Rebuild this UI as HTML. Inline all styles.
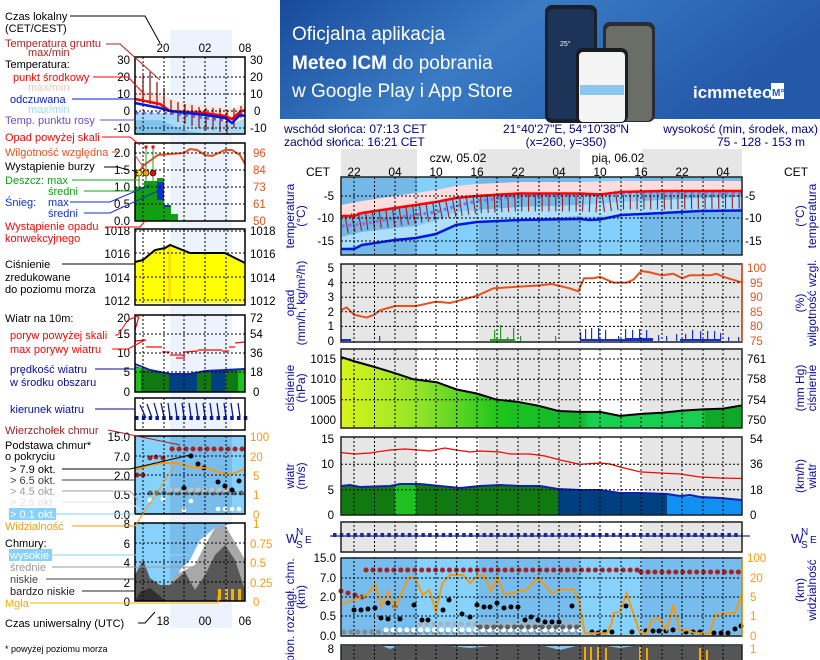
<!DOCTYPE html>
<html><head><meta charset="utf-8"><style>
html,body{margin:0;padding:0;background:#fff;}
svg{display:block;font-family:"Liberation Sans",sans-serif;}
</style></head><body>
<svg width="820" height="660" viewBox="0 0 820 660" xmlns="http://www.w3.org/2000/svg" font-size="12">
<defs>
<linearGradient id="bn" x1="0" y1="0" x2="1" y2="0.3">
<stop offset="0" stop-color="#174a9c"/><stop offset="0.45" stop-color="#3a7bc4"/><stop offset="0.75" stop-color="#2d68b6"/><stop offset="1" stop-color="#2458a8"/></linearGradient>
<linearGradient id="pg" x1="0" y1="0" x2="1" y2="0">
<stop offset="0" stop-color="#d8f41c"/><stop offset="0.2" stop-color="#90e428"/><stop offset="0.4" stop-color="#1cc41c"/><stop offset="0.6" stop-color="#10b830"/><stop offset="0.62" stop-color="#18d050"/><stop offset="0.9" stop-color="#18d050"/><stop offset="0.91" stop-color="#10a828"/><stop offset="1" stop-color="#10a828"/></linearGradient>
</defs>

<!-- BANNER -->
<rect x="280" y="0" width="540" height="119" fill="url(#bn)"/>
<text x="292" y="40" fill="#fff" font-size="19">Oficjalna aplikacja</text>
<text x="292" y="69" fill="#fff" font-size="19"><tspan font-weight="bold">Meteo ICM</tspan> do pobrania</text>
<text x="292" y="97" fill="#fff" font-size="19">w Google Play i App Store</text>
<rect x="545" y="5" width="52" height="118" rx="7" fill="#1a1f28"/>
<rect x="548" y="9" width="46" height="110" rx="5" fill="#1d3358"/>
<text x="560" y="46" fill="#fff" font-size="7">25°</text>
<rect x="603" y="22" width="52" height="100" rx="7" fill="#2a2e34"/>
<rect x="606" y="26" width="46" height="95" rx="5" fill="#6b6e66"/>
<rect x="576" y="48" width="52" height="75" rx="7" fill="#1a1c20"/>
<rect x="579" y="52" width="46" height="70" rx="4" fill="#f4f4f4"/>
<rect x="580" y="85" width="44" height="10" fill="#8ac6ee"/>
<text x="693" y="98" fill="#fff" font-size="17" font-weight="bold">icmmeteo</text>
<rect x="771" y="83" width="13" height="16" fill="#fff"/>
<text x="772" y="96" fill="#2458a8" font-size="10" font-weight="bold">M°</text>

<!-- header text -->
<g fill="#000080" font-size="12">
<text x="284" y="133">wschód słońca: 07:13 CET</text>
<text x="284" y="146">zachód słońca: 16:21 CET</text>
<text x="566" y="133" text-anchor="middle">21°40'27"E, 54°10'38"N</text>
<text x="566" y="146" text-anchor="middle">(x=260,  y=350)</text>
<text x="818" y="133" text-anchor="end">wysokość (min, środek, max)</text>
<text x="761" y="146" text-anchor="middle">75 - 128 - 153 m</text>
</g>

<!-- column backgrounds header -->
<g fill="#e6e6e6">
<rect x="341" y="149" width="76" height="28"/><rect x="479" y="149" width="101" height="28"/><rect x="642" y="149" width="100" height="28"/>
</g>
<text x="458" y="162" text-anchor="middle">czw, 05.02</text>
<text x="618" y="162" text-anchor="middle">pią, 06.02</text>
<g text-anchor="middle" font-size="12">
<text x="318" y="176">CET</text><text x="796" y="176">CET</text>
<text x="354" y="176">22</text><text x="395" y="176">04</text><text x="436" y="176">10</text><text x="477" y="176">16</text><text x="518" y="176">22</text><text x="559" y="176">04</text><text x="600" y="176">10</text><text x="641" y="176">16</text><text x="682" y="176">22</text><text x="723" y="176">04</text>
</g>

<!-- gray/white panels backgrounds -->
<g fill="#e6e6e6">
<rect x="341" y="264" width="76" height="395"/><rect x="479" y="264" width="101" height="395"/><rect x="642" y="264" width="100" height="395"/>
</g>

<!-- TEMP panel -->
<rect x="341" y="177" width="401" height="78" fill="#84d0fc"/>
<g fill="#74b8e8"><rect x="341" y="177" width="76" height="78"/><rect x="479" y="177" width="101" height="78"/><rect x="642" y="177" width="100" height="78"/></g>
<polygon fill="#b4e2fc" opacity="0.9" points="341,237 362,232 395,228 416,226 436,221 456,212 477,210 518,207 580,205 621,202 662,200 700,198 742,197 742,210 700,211 662,213 621,215 600,216 590,217 580,216 518,220 477,222 456,225 436,234 416,238 395,240 362,245 341,249"/>
<polygon fill="#fcdcdc" points="341,205 362,201 395,196 436,190 456,186 477,184 518,182 580,182 621,181 742,181 742,192 662,191 621,192 600,194 580,193 518,193 477,196 456,198 436,202 395,208 362,213 341,216"/>
<polyline fill="none" stroke="#a01818" stroke-width="19" stroke-dasharray="1.1 5.7" points="346,224 362,221 395,217 436,211 456,207 477,204 518,202 580,202 600,203 621,200 662,200 742,199"/>
<polyline fill="none" stroke="#7a7ae8" stroke-width="3.5" stroke-linecap="round" stroke-dasharray="0.1 6.8" points="343,226 362,224 395,218 436,212 456,206 477,201 518,196 580,195 621,194 662,193 742,193"/>
<polyline fill="none" stroke="#f00" stroke-width="2.5" points="341,216 354,216 362,213 395,208 436,202 456,198 477,196 518,193.5 580,193.5 600,194.5 621,192 662,191 742,191"/>
<polyline fill="none" stroke="#0018e0" stroke-width="2.5" points="341,249 354,249 362,245 395,240 416,238 436,234 456,225 477,222 518,220 580,219 590,220 600,219.5 621,215 662,213 700,211 742,210.5"/>

<!-- PRECIP -->
<g fill="#20a020"><rect x="494" y="330" width="1.2" height="11"/><rect x="500" y="325" width="1.2" height="16"/><rect x="513" y="328" width="1.2" height="13"/><rect x="507" y="337" width="1.2" height="4"/><rect x="520" y="336" width="1.2" height="5"/><rect x="555" y="336" width="1.2" height="5"/><rect x="490" y="339" width="25" height="2"/></g>
<g fill="#1030e0"><rect x="580" y="332" width="1.2" height="9"/><rect x="585" y="329" width="1.2" height="12"/><rect x="591" y="328" width="1.2" height="13"/><rect x="598" y="328" width="1.2" height="13"/><rect x="605" y="330" width="1.2" height="11"/><rect x="618" y="336" width="1.2" height="5"/><rect x="625" y="329" width="1.2" height="12"/><rect x="632" y="330" width="1.2" height="11"/><rect x="639" y="329" width="1.2" height="12"/><rect x="646" y="330" width="1.2" height="11"/><rect x="658" y="335" width="1.2" height="6"/><rect x="666" y="336" width="1.2" height="5"/><rect x="676" y="334" width="1.2" height="7"/><rect x="685" y="334" width="1.2" height="7"/><rect x="692" y="330" width="1.2" height="11"/><rect x="700" y="331" width="1.2" height="10"/><rect x="707" y="331" width="1.2" height="10"/><rect x="714" y="331" width="1.2" height="10"/><rect x="720" y="333" width="1.2" height="8"/><rect x="728" y="337" width="1.2" height="4"/><rect x="738" y="337" width="1.2" height="4"/><rect x="580" y="339" width="60" height="2"/><rect x="626" y="338" width="27" height="3"/><rect x="680" y="339" width="40" height="2"/><rect x="379" y="336" width="1.2" height="5"/><rect x="341" y="339" width="10" height="2"/></g>
<polyline fill="none" stroke="#e8501c" stroke-width="2" points="340.7,310.3 346.7,307.4 354,314.7 366.7,317.6 374.3,314.7 380,310.3 395,306 416,306 436,301.6 450,303 477.3,295.7 493.3,288.4 513.3,287 538.7,285.5 551.7,284 570,288.4 578.3,291.4 584,278.2 593.3,278.2 600,276.8 613.3,282.6 626.7,282.6 633.3,279.7 641.3,271 650,272.4 661.7,275.3 673.3,273.8 682.3,278.2 690,275.3 710,275.3 716.7,273.8 723.3,276.8 742.3,282.6"/>

<!-- PRESSURE -->
<polygon fill="url(#pg)" points="341,428 340.7,356.9 353.3,361 375,367.1 395,373.2 413.3,379.3 436.7,382.2 456.7,389.5 476.7,393.5 496.7,399.7 516.7,401.7 538.7,405.8 558.3,411 580,411.9 600,411.9 620,415.9 641.3,413.9 661.7,412.7 682.3,410.6 702.7,409.4 723.3,408.6 742.3,405.3 742,428"/>
<polyline fill="none" stroke="#000" stroke-width="2" points="340.7,356.9 353.3,361 375,367.1 395,373.2 413.3,379.3 436.7,382.2 456.7,389.5 476.7,393.5 496.7,399.7 516.7,401.7 538.7,405.8 558.3,411 580,411.9 600,411.9 620,415.9 641.3,413.9 661.7,412.7 682.3,410.6 702.7,409.4 723.3,408.6 742.3,405.3"/>

<!-- WIND -->
<polygon fill="#107a10" points="341,515 341,486 350,485 360,487 390,486 400,484 420,484 440,486 460,488 480,486 500,485 520,486 540,486 558,489 558,515"/>
<rect x="395" y="484" width="21" height="31" fill="#20c020"/>
<polygon fill="#004080" points="558,515 558,489 580,490 600,490 620,493 640,493 667,494 667,515"/>
<polygon fill="#1090f0" points="667,515 667,494 680,496 700,497 720,498 742,500 742,515"/>
<polyline fill="none" stroke="#1020b0" stroke-width="2" points="341,486 350,485 360,487 390,486 400,484 420,484 440,486 460,488 480,486 500,485 520,486 540,486 558,489 580,490 600,490 620,493 640,493 667,494 680,496 690,495 700,497 720,498 742,500"/>
<polyline fill="none" stroke="#f00" stroke-width="1.2" points="341,452.6 355,454 370,453 390,450 405,449 430,451 445,448 456,450 470,452 480,451 500,452 510,454 530,454 545,456 560,460 580,464.3 600,463 610,464 620,467 640,471.9 660,473 680,474 700,477 720,478 742,478.5"/>

<!-- DIRECTION -->
<line x1="330" y1="536" x2="750" y2="536" stroke="#1a2a9a" stroke-width="1.2"/>
<line x1="333" y1="535" x2="742" y2="535" stroke="#1a2a9a" stroke-width="4" stroke-dasharray="3.5 3.3"/>

<!-- CLOUDS -->
<rect x="341" y="558" width="401" height="78" fill="#86d2fc"/>
<g fill="#76bcec"><rect x="341" y="558" width="76" height="78"/><rect x="479" y="558" width="101" height="78"/><rect x="642" y="558" width="100" height="78"/></g>
<line x1="344" y1="632" x2="580" y2="632" stroke="#888" stroke-width="5" stroke-linecap="round" stroke-dasharray="0.1 6.8"/>
<line x1="386" y1="630" x2="580" y2="630" stroke="#fff" stroke-width="5" stroke-linecap="round" stroke-dasharray="0.1 6.8"/>
<line x1="420" y1="624" x2="580" y2="624" stroke="#b0b0b0" stroke-width="5" stroke-linecap="round" stroke-dasharray="0.1 6.8"/>
<line x1="480" y1="627" x2="580" y2="627" stroke="#606060" stroke-width="5" stroke-linecap="round" stroke-dasharray="0.1 6.8"/>
<line x1="366" y1="570" x2="641" y2="570" stroke="#a82020" stroke-width="5" stroke-linecap="round" stroke-dasharray="0.1 6.85"/>
<line x1="641" y1="572" x2="742" y2="572" stroke="#a82020" stroke-width="5" stroke-linecap="round" stroke-dasharray="0.1 6.85"/>
<g fill="#a82020"><circle cx="341" cy="591" r="2.5"/><circle cx="348" cy="593" r="2.5"/><circle cx="355" cy="595" r="2.5"/><circle cx="362" cy="597" r="2.5"/></g>
<g fill="#000">
<circle cx="354" cy="610" r="2.5"/><circle cx="361" cy="610" r="2.5"/><circle cx="368" cy="609" r="2.5"/><circle cx="375" cy="608" r="2.5"/><circle cx="388" cy="603" r="2.5"/><circle cx="395" cy="606" r="2.5"/><circle cx="414" cy="605" r="2.5"/><circle cx="443" cy="610" r="2.5"/><circle cx="449" cy="600" r="2.5"/><circle cx="477" cy="605" r="2.5"/><circle cx="484" cy="607" r="2.5"/><circle cx="490" cy="607" r="2.5"/><circle cx="497" cy="603" r="2.5"/><circle cx="504" cy="608" r="2.5"/><circle cx="511" cy="607" r="2.5"/><circle cx="518" cy="607" r="2.5"/><circle cx="572" cy="606" r="2.5"/>
<circle cx="381" cy="618" r="2.5"/><circle cx="388" cy="619" r="2.5"/><circle cx="400" cy="619" r="2.5"/><circle cx="422" cy="620" r="2.5"/><circle cx="428" cy="620" r="2.5"/><circle cx="462" cy="614" r="2.5"/><circle cx="470" cy="617" r="2.5"/><circle cx="525" cy="620" r="2.5"/><circle cx="531" cy="617" r="2.5"/><circle cx="538" cy="620" r="2.5"/><circle cx="545" cy="622" r="2.5"/><circle cx="552" cy="622" r="2.5"/><circle cx="559" cy="622" r="2.5"/>
<circle cx="592" cy="632" r="2.5"/><circle cx="598" cy="633" r="2.5"/><circle cx="605" cy="632" r="2.5"/><circle cx="612" cy="632" r="2.5"/><circle cx="626" cy="606" r="2.5"/><circle cx="632" cy="632" r="2.5"/><circle cx="646" cy="631" r="2.5"/><circle cx="653" cy="631" r="2.5"/><circle cx="659" cy="631" r="2.5"/><circle cx="666" cy="631" r="2.5"/><circle cx="673" cy="630" r="2.5"/><circle cx="686" cy="632" r="2.5"/><circle cx="693" cy="632" r="2.5"/><circle cx="700" cy="632" r="2.5"/><circle cx="714" cy="633" r="2.5"/><circle cx="721" cy="633" r="2.5"/><circle cx="728" cy="633" r="2.5"/><circle cx="735" cy="629" r="2.5"/><circle cx="741" cy="626" r="2.5"/>
</g>
<polyline fill="none" stroke="#f59a10" stroke-width="2" points="340.7,604 351.7,600.7 366.7,595 375,584 381.7,606 388.3,591.7 395,608.3 408.3,577.7 415,577.7 422.7,595 429.3,590 436,611.7 442.3,583.3 450,575 463.3,575 470,583.3 477.3,575.7 484,575.7 490.7,591 497.3,576.7 504,594 511.7,594 517.3,591 525,590.7 538.7,577.7 551.7,593.3 558.3,590 573.3,589.3 578.3,598.3 585,633.3 598.3,633.3 606.7,633.3 611.7,623.3 613.3,613.3 620,611.7 626.7,593.3 633.3,613.3 640,633.3 646.7,633.3 651.7,620 658.3,618.3 666.7,630 673.3,605 680,631.7 686.7,630 695,633.3 710,633.3 715,615 720,614 735,612.7 742.3,593.3"/>

<!-- bottom cloud panel -->
<rect x="341" y="645" width="401" height="15" fill="#555"/>
<polygon fill="#80c8f0" points="341,645 380,645 390,649 400,645 440,645 470,648 500,645 520,645 540,645 560,650 580,645 600,645 620,648 640,645 742,645 742,646 341,646"/>
<g fill="#f5a800"><rect x="584" y="647" width="2" height="13"/><rect x="590" y="647" width="2" height="13"/><rect x="597" y="647" width="2" height="13"/><rect x="605" y="648" width="2" height="12"/><rect x="639" y="647" width="2" height="13"/><rect x="646" y="648" width="2" height="12"/><rect x="699" y="648" width="2" height="12"/><rect x="706" y="650" width="2" height="10"/></g>

<!-- main vertical grid -->
<path fill="none" stroke="#000" stroke-width="1" stroke-dasharray="2 2" d="M354 177V660M374.5 177V660M395 177V660M416 177V660M436 177V660M456.7 177V660M477 177V660M497 177V660M518 177V660M539 177V660M559 177V660M580 177V660M600 177V660M621 177V660M641 177V660M662 177V660M682 177V660M703 177V660M723 177V660"/>
<path fill="none" stroke="#000" stroke-width="1" stroke-dasharray="2 2" d="M341 196H742M341 218H742M341 241H742M341 326.4H742M341 311.8H742M341 297.2H742M341 282.6H742M341 359H742M341 379.3H742M341 399.7H742M341 464.3H742M341 489.7H742M341 578H742M341 597H742M341 616H742"/>
<g fill="#fff"><rect x="300" y="256" width="445" height="8"/><rect x="300" y="343" width="445" height="5"/><rect x="300" y="429" width="445" height="7"/><rect x="300" y="516" width="445" height="5"/><rect x="300" y="553" width="445" height="4"/><rect x="300" y="637" width="445" height="7"/></g>
<g fill="none" stroke="#222" stroke-width="1.5">
<rect x="341" y="177" width="401" height="78"/><rect x="341" y="264" width="401" height="78"/><rect x="341" y="349" width="401" height="79"/><rect x="341" y="437" width="401" height="78"/><rect x="341" y="522" width="401" height="30"/><rect x="341" y="558" width="401" height="78"/><rect x="341" y="645" width="401" height="20"/>
</g>
<line x1="742" y1="264" x2="742" y2="342" stroke="#e8501c" stroke-width="1.5"/>
<line x1="742" y1="558" x2="742" y2="636" stroke="#f59a10" stroke-width="1.5"/>

<!-- main axis labels -->
<g font-size="11.5" text-anchor="end">
<text x="334" y="200">-5</text><text x="334" y="222">-10</text><text x="334" y="245">-15</text>
<text x="334" y="272">5</text><text x="334" y="287">4</text><text x="334" y="301">3</text><text x="334" y="316">2</text><text x="334" y="330">1</text><text x="334" y="345">0</text>
<text x="336" y="363">1015</text><text x="336" y="383">1010</text><text x="336" y="404">1005</text><text x="336" y="424">1000</text>
<text x="334" y="443">15</text><text x="334" y="468">10</text><text x="334" y="494">5</text><text x="334" y="519">0</text>
<text x="336" y="562">15.0</text><text x="336" y="582">7.0</text><text x="336" y="601">2.0</text><text x="336" y="620">0.5</text><text x="336" y="640">0.0</text>
<text x="334" y="653">8</text>
</g>
<g font-size="11.5">
<text x="745" y="200">-5</text><text x="745" y="222">-10</text><text x="745" y="245">-15</text>
<g fill="#e8501c"><text x="747" y="272">100</text><text x="750" y="287">95</text><text x="750" y="301">90</text><text x="750" y="316">85</text><text x="750" y="330">80</text><text x="750" y="345">75</text></g>
<text x="747" y="363">761</text><text x="747" y="383">758</text><text x="747" y="404">754</text><text x="747" y="424">750</text>
<text x="750" y="443">54</text><text x="750" y="468">36</text><text x="750" y="494">18</text><text x="750" y="519">0</text>
<g fill="#f59a10"><text x="747" y="562">100</text><text x="750" y="582">20</text><text x="750" y="601">5</text><text x="750" y="620">1</text><text x="750" y="640">0</text><text x="750" y="653">1</text></g>
</g>
<!-- rotated titles -->
<g fill="#0a0aa0" font-size="12" text-anchor="middle">
<text transform="translate(294,216) rotate(-90)">temperatura</text><text transform="translate(305,216) rotate(-90)">(°C)</text>
<text transform="translate(294,303) rotate(-90)">opad</text><text transform="translate(305,303) rotate(-90)">(mm/h, kg/m²/h)</text>
<text transform="translate(294,388) rotate(-90)">ciśnienie</text><text transform="translate(305,388) rotate(-90)">(hPa)</text>
<text transform="translate(294,476) rotate(-90)">wiatr</text><text transform="translate(305,476) rotate(-90)">(m/s)</text>
<text transform="translate(294,610) rotate(-90)">pion. rozciągł. chm.</text><text transform="translate(305,597) rotate(-90)">(km)</text>
<text transform="translate(804,216) rotate(-90)">(°C)</text><text transform="translate(816,216) rotate(-90)">temperatura</text>
<text transform="translate(804,303) rotate(-90)">(%)</text><text transform="translate(816,303) rotate(-90)">wilgotność wzgl.</text>
<text transform="translate(804,388) rotate(-90)">(mm Hg)</text><text transform="translate(816,388) rotate(-90)">ciśnienie</text>
<text transform="translate(804,476) rotate(-90)">(km/h)</text><text transform="translate(816,476) rotate(-90)">wiatr</text>
<text transform="translate(804,590) rotate(-90)">(km)</text><text transform="translate(816,590) rotate(-90)">widzialność</text>
</g>
<g fill="#0a0aa0" font-size="13"><text x="286" y="543">W</text><text x="296" y="535" font-size="10">N</text><text x="296" y="548" font-size="10">S</text><text x="305" y="543" font-size="10">E</text>
<text x="791" y="543">W</text><text x="801" y="535" font-size="10">N</text><text x="801" y="548" font-size="10">S</text><text x="810" y="543" font-size="10">E</text></g>

<!-- LEFT LEGEND CHART -->
<rect x="170" y="30" width="62" height="598" fill="#edf3fd"/>
<polygon fill="#fde6dc" opacity="0.9" points="135,88 160,95 184,103 205,105 232,108 245,103 245,112 232,118 205,114 184,112 160,107 135,98"/>
<polygon fill="#a8daf8" points="135,112 160,113 184,113 205,117 232,124 245,118 245,134 135,134"/>
<polygon fill="#80c4ee" points="135,120 160,120 184,130 205,134 135,134"/>
<g stroke="#a01818" stroke-width="1.3"><line x1="143" y1="75" x2="143" y2="100"/><line x1="150" y1="72" x2="150" y2="104"/><line x1="157" y1="82" x2="157" y2="106"/><line x1="164" y1="88" x2="164" y2="108"/><line x1="171" y1="100" x2="171" y2="115"/><line x1="178" y1="102" x2="178" y2="122"/><line x1="185" y1="104" x2="185" y2="124"/><line x1="192" y1="105" x2="192" y2="126"/><line x1="199" y1="107" x2="199" y2="128"/><line x1="206" y1="108" x2="206" y2="130"/><line x1="213" y1="108" x2="213" y2="130"/><line x1="220" y1="108" x2="220" y2="132"/><line x1="227" y1="110" x2="227" y2="134"/><line x1="234" y1="108" x2="234" y2="128"/><line x1="241" y1="106" x2="241" y2="118"/></g>
<polyline fill="none" stroke="#6c5ce0" stroke-width="3" stroke-linecap="round" stroke-dasharray="0.1 7" points="137,113 170,113 205,118 230,121 245,112"/>
<polyline fill="none" stroke="#f00" stroke-width="2.5" points="135,99 160,104 170,111 205,113 225,116 232,119 240,112 245,110"/>
<polyline fill="none" stroke="#0018e0" stroke-width="2.5" points="135,103 160,108 170,111 205,115 225,118 232,123 240,115 245,116"/>
<!-- precip -->
<g fill="#10a010"><rect x="135" y="187" width="9" height="34"/><rect x="144" y="181" width="13" height="40"/><rect x="157" y="178" width="7" height="43"/><rect x="164" y="205" width="7" height="16"/><rect x="171" y="214" width="7" height="7"/></g>
<rect x="157" y="182" width="7" height="18" fill="#1030d0"/><rect x="164" y="205" width="6" height="2" fill="#1030d0"/>
<polyline fill="none" stroke="#e8501c" stroke-width="2" points="135,178 143,166 158,155 184,153 190,149 197,150 205,155 212,156 225,150 232,150 240,155 245,164"/>
<g stroke="#20a020"><line x1="146" y1="147" x2="146" y2="181"/><line x1="153" y1="147" x2="153" y2="181"/><line x1="139" y1="173" x2="139" y2="187"/></g>
<circle cx="139" cy="173" r="3" fill="#ffe000" stroke="#000" stroke-width="0.6"/><circle cx="146" cy="173" r="3" fill="#f5a000" stroke="#000" stroke-width="0.6"/><circle cx="153" cy="173" r="3" fill="#e01010" stroke="#000" stroke-width="0.6"/>
<rect x="144.5" y="145.5" width="3" height="3" fill="#f00"/><rect x="151.5" y="145.5" width="3" height="3" fill="#f00"/>
<!-- pressure -->
<polygon fill="#ffff00" points="135,303 135,262 143,260 155,250 165,248 170,245 190,253 225,253 245,263 245,303"/>
<rect x="168" y="246" width="3" height="57" fill="#fbe000"/>
<polyline fill="none" stroke="#000" stroke-width="2" points="135,262 143,260 155,250 165,248 170,245 190,253 225,253 245,263"/>
<!-- wind -->
<polygon fill="#107a10" points="135,392 135,366 150,371 170,374 190,374 205,371 245,370 245,392"/>
<rect x="135" y="368" width="6" height="24" fill="#20c020"/><rect x="238" y="370" width="7" height="22" fill="#20c020"/>
<rect x="169" y="373" width="28" height="19" fill="#004080"/><rect x="211" y="371" width="14" height="21" fill="#004080"/>
<polyline fill="none" stroke="#1020b0" stroke-width="2" points="135,364 150,370 170,374 190,374 205,371 245,369"/>
<g stroke="#f00" stroke-width="1.2"><line x1="135" y1="330" x2="139" y2="316"/><line x1="135" y1="341" x2="146" y2="340"/><line x1="146" y1="347" x2="162" y2="347"/><line x1="162" y1="352" x2="170" y2="352"/><line x1="170" y1="355" x2="185" y2="355"/><line x1="176" y1="358" x2="185" y2="358"/><line x1="185" y1="352" x2="198" y2="351"/><line x1="198" y1="350" x2="222" y2="350"/><line x1="222" y1="351" x2="229" y2="351"/><line x1="229" y1="347" x2="235" y2="347"/><line x1="235" y1="343" x2="245" y2="342"/></g>
<!-- direction -->
<g stroke="#0a1a9a" stroke-width="1.3"><path d="M140 405L146 418M147 404L152 418M154 403L158 417M161 403L164 417M168 403L170 417M175 403L177 417M182 403L184 417M189 403L191 417M196 403L198 417M203 403L205 417M210 403L212 417M217 403L219 417M224 403L226 417M231 403L233 417M238 403L240 417"/></g>
<line x1="135" y1="418" x2="250" y2="418" stroke="#0a1a9a" stroke-width="4" stroke-dasharray="3.5 3.3"/>
<!-- cloud base -->
<rect x="135" y="436" width="110" height="78" fill="#86d2fc"/>
<rect x="170" y="436" width="62" height="78" fill="#78bcec"/>
<line x1="172" y1="449" x2="245" y2="449" stroke="#a82020" stroke-width="5" stroke-linecap="round" stroke-dasharray="0.1 6.9"/>
<g fill="#a82020"><circle cx="150" cy="458" r="2.5"/><circle cx="156" cy="457" r="2.5"/><circle cx="163" cy="458" r="2.5"/><circle cx="137" cy="475" r="2.5"/><circle cx="143" cy="475" r="2.5"/></g>
<line x1="150" y1="493" x2="245" y2="493" stroke="#606060" stroke-width="5" stroke-linecap="round" stroke-dasharray="0.1 6.9"/>
<line x1="170" y1="490" x2="230" y2="490" stroke="#c0c0c0" stroke-width="5" stroke-linecap="round" stroke-dasharray="0.1 6.9"/>
<g fill="#fff"><circle cx="150" cy="500" r="2.3"/><circle cx="163" cy="499" r="2.3"/><circle cx="184" cy="510" r="2.3"/><circle cx="191" cy="501" r="2.3"/><circle cx="218" cy="509" r="2.3"/><circle cx="225" cy="509" r="2.3"/><circle cx="232" cy="509" r="2.3"/><circle cx="239" cy="509" r="2.3"/></g>
<g fill="#000"><circle cx="191" cy="456" r="2.5"/><circle cx="198" cy="464" r="2.5"/><circle cx="204" cy="468" r="2.5"/><circle cx="218" cy="482" r="2.5"/><circle cx="225" cy="486" r="2.5"/><circle cx="239" cy="481" r="2.5"/><circle cx="184" cy="488" r="2.5"/><circle cx="232" cy="490" r="2.5"/></g>
<polyline fill="none" stroke="#f59a10" stroke-width="2" points="135,470 150,465 163,463 177,463 190,467 205,468 225,474 232,474 245,469"/>
<!-- clouds -->
<rect x="135" y="523" width="110" height="78" fill="#86d2fc"/>
<rect x="170" y="523" width="62" height="78" fill="#78bcec"/>
<polygon fill="#fff" points="170,601 180,570 190,560 200,540 215,528 235,523 245,523 245,601"/>
<polygon fill="#a8a8a8" points="160,601 175,575 195,565 205,545 215,528 225,525 245,560 245,601"/>
<polygon fill="#585858" points="135,601 135,575 143,560 150,578 160,585 170,585 185,572 195,590 205,575 215,555 225,545 235,560 245,590 245,601"/>
<polygon fill="#303030" points="135,601 140,592 150,588 160,596 165,601"/>
<g fill="#f5b000"><rect x="218" y="589" width="3" height="12"/><rect x="225" y="589" width="3" height="12"/><rect x="231" y="589" width="3" height="12"/><rect x="238" y="589" width="3" height="12"/></g>

<!-- left grid -->
<path fill="none" stroke="#000" stroke-dasharray="2 2" d="M143 57V134M164 57V134M184 57V134M205 57V134M226 57V134M143 143V221M164 143V221M184 143V221M205 143V221M226 143V221M143 229V305M164 229V305M184 229V305M205 229V305M226 229V305M143 315V392M164 315V392M184 315V392M205 315V392M226 315V392M143 398V430M164 398V430M184 398V430M205 398V430M226 398V430M143 436V514M164 436V514M184 436V514M205 436V514M226 436V514M143 523V601M164 523V601M184 523V601M205 523V601M226 523V601 M135 77H245M135 94H245M135 111H245M135 128H245M135 153H245M135 170H245M135 187H245M135 204H245M135 231H245M135 253H245M135 277H245M135 300H245M135 334H245M135 353H245M135 372H245M135 456H245M135 475H245M135 494H245M135 543H245M135 562H245M135 582H245"/>
<g fill="none" stroke="#000" stroke-width="1.5"><rect x="135" y="57" width="110" height="77"/><rect x="135" y="143" width="110" height="78"/><rect x="135" y="229" width="110" height="76"/><rect x="135" y="315" width="110" height="77"/><rect x="135" y="398" width="110" height="32"/><rect x="135" y="436" width="110" height="78"/><rect x="135" y="523" width="110" height="78"/></g>

<!-- left labels -->
<g font-size="11.5">
<text x="163" y="52" text-anchor="middle">20</text><text x="205" y="52" text-anchor="middle">02</text><text x="245" y="52" text-anchor="middle">08</text>
<g text-anchor="end"><text x="130" y="64">30</text><text x="130" y="81">20</text><text x="130" y="98">10</text><text x="130" y="115">0</text><text x="130" y="132">-10</text>
<text x="130" y="157">2.0</text><text x="130" y="174">1.5</text><text x="130" y="191">1.0</text><text x="130" y="208">0.5</text><text x="130" y="225">0.0</text>
<text x="130" y="235">1018</text><text x="130" y="258">1016</text><text x="130" y="282">1014</text><text x="130" y="305">1012</text>
<text x="130" y="322">20</text><text x="130" y="338">15</text><text x="130" y="357">10</text><text x="130" y="376">5</text><text x="130" y="396">0</text>
<text x="130" y="441">15.0</text><text x="130" y="461">7.0</text><text x="130" y="480">2.0</text><text x="130" y="499">0.5</text><text x="130" y="519">0.0</text>
<text x="130" y="528">8</text><text x="130" y="548">6</text><text x="130" y="567">4</text><text x="130" y="587">2</text><text x="130" y="606">0</text></g>
<text x="250" y="64">30</text><text x="250" y="81">20</text><text x="250" y="98">10</text><text x="254" y="115">0</text><text x="250" y="132">-10</text>
<g fill="#e8501c"><text x="253" y="157">96</text><text x="253" y="174">84</text><text x="253" y="191">73</text><text x="253" y="208">61</text><text x="253" y="225">50</text></g>
<text x="250" y="235">1018</text><text x="250" y="258">1016</text><text x="250" y="282">1014</text><text x="250" y="305">1012</text>
<text x="250" y="322">72</text><text x="250" y="338">54</text><text x="250" y="357">36</text><text x="250" y="376">18</text><text x="253" y="396">0</text>
<g fill="#f59a10"><text x="250" y="441">100</text><text x="250" y="461">20</text><text x="253" y="480">5</text><text x="253" y="499">1</text><text x="253" y="519">0</text>
<text x="253" y="528">1</text><text x="250" y="548">0.75</text><text x="250" y="567">0.5</text><text x="250" y="587">0.25</text><text x="253" y="606">0</text></g>
<text x="163" y="625" text-anchor="middle">18</text><text x="205" y="625" text-anchor="middle">00</text><text x="245" y="625" text-anchor="middle">06</text>
</g>
<g font-size="11">
<text x="5" y="20">Czas lokalny</text><text x="5" y="32">(CET/CEST)</text>
<text x="5" y="47" fill="#b02020">Temperatura gruntu</text><text x="28" y="56" fill="#b02020">max/min</text>
<text x="5" y="68">Temperatura:</text>
<text x="13" y="81" fill="#f00">punkt środkowy</text><text x="28" y="91" fill="#f4c8b8">max/min</text>
<text x="10" y="103" fill="#0018e0">odczuwana</text><text x="28" y="113" fill="#a0d8f8">max/min</text>
<text x="5" y="124" fill="#6050d0">Temp. punktu rosy</text>
<text x="5" y="141" fill="#f00">Opad powyżej skali</text>
<text x="5" y="156" fill="#e8501c">Wilgotność względna</text>
<text x="5" y="170">Wystąpienie burzy</text>
<text x="5" y="184" fill="#10a010">Deszcz: max</text><text x="48" y="195" fill="#10a010">średni</text>
<text x="5" y="206" fill="#1030d0">Śnieg:</text><text x="48" y="206" fill="#1030d0">max</text><text x="48" y="217" fill="#1030d0">średni</text>
<text x="5" y="230" fill="#f00">Wystąpienie opadu</text><text x="5" y="242" fill="#f00">konwekcyjnego</text>
<text x="5" y="268">Ciśnienie</text><text x="5" y="281">zredukowane</text><text x="5" y="293">do poziomu morza</text>
<text x="5" y="322">Wiatr na 10m:</text>
<text x="10" y="339" fill="#f00">poryw powyżej skali</text><text x="10" y="353" fill="#f00">max porywy wiatru</text>
<text x="10" y="373" fill="#0a0aa0">prędkość wiatru</text><text x="10" y="386" fill="#0a0aa0">w środku obszaru</text>
<text x="10" y="413" fill="#0a0aa0">kierunek wiatru</text>
<text x="5" y="434" fill="#a02020">Wierzchołek chmur</text>
<text x="5" y="449">Podstawa chmur*</text><text x="5" y="460">o pokryciu</text>
<text x="10" y="473">&gt; 7.9 okt.</text><text x="10" y="484" fill="#404040">&gt; 6.5 okt.</text><text x="10" y="495" fill="#a0a0a0">&gt; 4.5 okt.</text><text x="10" y="506" fill="#e0e0e0">&gt; 2.5 okt.</text>
<rect x="9" y="508" width="47" height="12" fill="#86d2fc"/><text x="10" y="518" fill="#fff">&gt; 0.1 okt.</text>
<text x="5" y="530" fill="#f59a10">Widzialność</text>
<text x="5" y="547">Chmury:</text>
<rect x="9" y="549" width="43" height="12" fill="#86d2fc"/><text x="10" y="559" fill="#fff">wysokie</text>
<text x="10" y="571" fill="#999">średnie</text><text x="10" y="583" fill="#444">niskie</text><text x="10" y="595" fill="#222">bardzo niskie</text>
<text x="5" y="607" fill="#f5b000">Mgła</text>
<text x="5" y="627">Czas uniwersalny (UTC)</text>
<text x="5" y="652" font-size="9">* powyżej poziomu morza</text>
</g>
<!-- leader lines -->
<g fill="none" stroke-width="1">
<path d="M70 16H145L160 43" stroke="#000"/>
<path d="M106 44H120L160 80" stroke="#b02020"/>
<path d="M93 77H128M128 77L145 95" stroke="#f00"/>
<path d="M72 99H135" stroke="#0018e0"/>
<path d="M100 120H135" stroke="#6050d0"/>
<path d="M102 137H130L140 145" stroke="#f00"/>
<path d="M112 152H118M135 155L145 170" stroke="#e8501c"/>
<path d="M104 167H118L128 170M132 170L138 173" stroke="#000"/>
<path d="M72 180H140" stroke="#10a010"/><path d="M84 191H140" stroke="#10a010"/>
<path d="M70 202H110L150 185" stroke="#1030d0"/><path d="M84 213H110L160 190" stroke="#1030d0"/>
<path d="M105 227H140L145 221" stroke="#f00"/>
<path d="M62 264H135" stroke="#000"/>
<path d="M115 335H118L128 320L138 316" stroke="#f00"/><path d="M112 349H128L145 340" stroke="#f00"/>
<path d="M95 369H135" stroke="#0a0aa0"/><path d="M95 409H135" stroke="#0a0aa0"/>
<path d="M108 430L180 445" stroke="#a02020"/>
<path d="M62 469H130L190 455" stroke="#000"/><path d="M62 480H135" stroke="#404040"/>
<path d="M62 491H130L138 500" stroke="#a0a0a0"/><path d="M62 502H130L140 510" stroke="#e0e0e0"/>
<path d="M56 514H135" stroke="#86d2fc"/>
<path d="M72 526H135L175 465" stroke="#f59a10"/>
<path d="M52 555H190" stroke="#86d2fc"/><path d="M52 567H195" stroke="#999"/><path d="M46 579H135" stroke="#444"/><path d="M82 591H135" stroke="#222"/>
<path d="M30 603H218V596" stroke="#f5b000"/>
<path d="M138 623H145L155 612" stroke="#000"/>
</g>
</svg>
</body></html>
